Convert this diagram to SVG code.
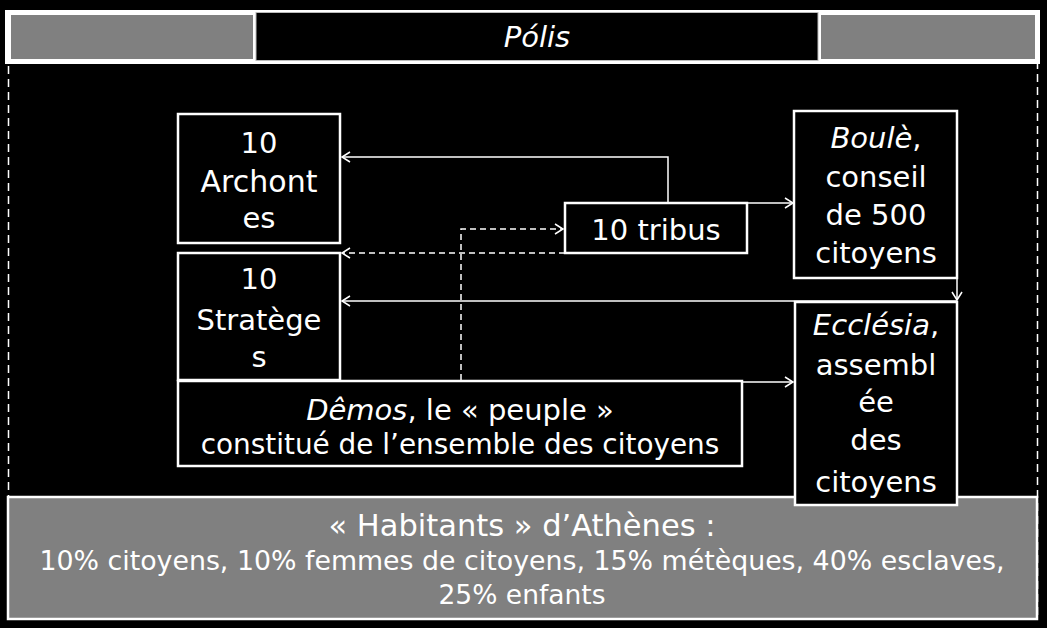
<svg xmlns="http://www.w3.org/2000/svg" width="1047" height="628" viewBox="0 0 1047 628">
<style>
.box{fill:#000;stroke:#fff;stroke-width:2.5}
.t{fill:#fff;font-family:"DejaVu Sans","Liberation Sans",sans-serif;font-size:29px;text-anchor:middle}
.i{font-style:italic}
.c{fill:none;stroke:#fff;stroke-width:1.5}
.d{stroke-dasharray:6 4}
</style>
<defs>
<marker id="a" markerUnits="userSpaceOnUse" markerWidth="12" markerHeight="12" refX="9" refY="6" orient="auto">
<path d="M1,1 L9,6 L1,11" fill="none" stroke="#fff" stroke-width="1.5"/>
</marker>
</defs>
<rect width="1047" height="628" fill="#000"/>
<g id="frame">
<rect x="8.5" y="63" width="1029" height="556" fill="none" stroke="#fff" stroke-width="1.5" stroke-dasharray="8 5"/>
</g>
<g id="polis">
<rect x="5" y="10" width="1035" height="54" fill="#fff"/>
<rect x="11" y="15" width="242" height="44" fill="#808080"/>
<rect x="821" y="15" width="214" height="44" fill="#808080"/>
<rect x="256" y="12.5" width="562" height="48" fill="#000" stroke="#bbb" stroke-width="1"/>
<text class="t i" x="537" y="47">Pólis</text>
</g>
<g id="habitants">
<rect x="8" y="497" width="1029" height="122" fill="#808080" stroke="#fff" stroke-width="2.5"/>
<text class="t" x="522" y="536" style="font-size:30.5px">« Habitants » d’Athènes :</text>
<text class="t" x="522" y="570" style="font-size:26.8px">10% citoyens, 10% femmes de citoyens, 15% métèques, 40% esclaves,</text>
<text class="t" x="522" y="604" style="font-size:26.5px">25% enfants</text>
</g>
<g id="connectors">
<path class="c" d="M668,203 V157 H342" marker-end="url(#a)"/>
<path class="c" d="M748,203 H793" marker-end="url(#a)"/>
<path class="c d" d="M565,253 H342" marker-end="url(#a)"/>
<path class="c d" d="M461,380 V229 H563" marker-end="url(#a)"/>
<path class="c" d="M957,278 V300" marker-end="url(#a)"/>
<path class="c" d="M957,301 H342" marker-end="url(#a)"/>
<path class="c" d="M742,382 H793" marker-end="url(#a)"/>
</g>
<g id="archontes">
<rect class="box" x="178" y="114" width="162" height="129"/>
<text class="t" x="259" y="153">10</text>
<text class="t" x="259" y="192" style="font-size:30px">Archont</text>
<text class="t" x="259" y="228">es</text>
</g>
<g id="strateges">
<rect class="box" x="178" y="253" width="162" height="127"/>
<text class="t" x="259" y="289">10</text>
<text class="t" x="259" y="330">Stratège</text>
<text class="t" x="259" y="367">s</text>
</g>
<g id="tribus">
<rect class="box" x="565" y="203" width="182" height="50"/>
<text class="t" x="656" y="240">10 tribus</text>
</g>
<g id="boule">
<rect class="box" x="794" y="111" width="163" height="167"/>
<text class="t" x="876" y="148"><tspan class="i">Boulè</tspan>,</text>
<text class="t" x="876" y="187">conseil</text>
<text class="t" x="876" y="225">de 500</text>
<text class="t" x="876" y="263">citoyens</text>
</g>
<g id="demos">
<rect class="box" x="178" y="381" width="564" height="85"/>
<text class="t" x="460" y="420"><tspan class="i">Dêmos</tspan>, le « peuple »</text>
<text class="t" x="460" y="454" style="font-size:27.9px">constitué de l’ensemble des citoyens</text>
</g>
<g id="ecclesia">
<rect class="box" x="795" y="302" width="162" height="203"/>
<text class="t" x="876" y="335"><tspan class="i">Ecclésia</tspan>,</text>
<text class="t" x="876" y="375">assembl</text>
<text class="t" x="876" y="412">ée</text>
<text class="t" x="876" y="450">des</text>
<text class="t" x="876" y="492">citoyens</text>
</g>
</svg>
